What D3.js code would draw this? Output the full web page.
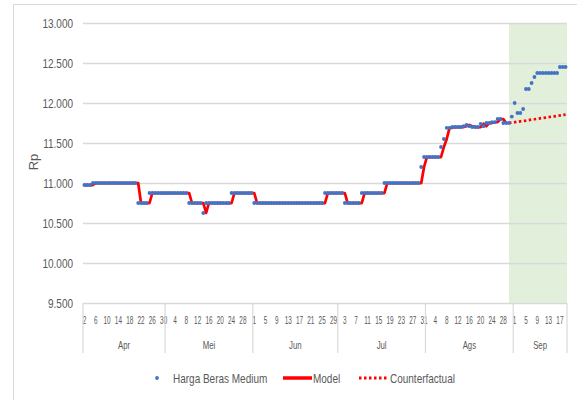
<!DOCTYPE html>
<html><head><meta charset="utf-8">
<script src="https://cdn.jsdelivr.net/npm/d3@7"></script>
<style>
body{margin:0;background:#fff}
text{font-family:"Liberation Sans",Arial,sans-serif;fill:#595959}
</style>
</head><body>
<svg id="chart" width="577" height="400"></svg>
<script>
// ---- categories ----
const months = ["Apr","Mei","Jun","Jul","Ags","Sep"];
const monthFirstDay = [2, 1, 1, 1, 1, 1];
const monthLastDay  = [30, 31, 30, 31, 31, 19];

// ---- Harga Beras Medium (daily, Rp) ----
const priceApr = [10975,10975,10975,11000,11000,11000,11000,11000,11000,11000,11000,11000,11000,11000,11000,11000,11000,11000,11000,10750,10750,10750,10750,10875,10875,10875,10875,10875,10875];
const priceMei = [10875,10875,10875,10875,10875,10875,10875,10875,10750,10750,10750,10750,10750,10625,10750,10750,10750,10750,10750,10750,10750,10750,10750,10875,10875,10875,10875,10875,10875,10875,10875];
const priceJun = [10750,10750,10750,10750,10750,10750,10750,10750,10750,10750,10750,10750,10750,10750,10750,10750,10750,10750,10750,10750,10750,10750,10750,10750,10750,10875,10875,10875,10875,10875];
const priceJul = [10875,10875,10750,10750,10750,10750,10750,10750,10875,10875,10875,10875,10875,10875,10875,10875,11000,11000,11000,11000,11000,11000,11000,11000,11000,11000,11000,11000,11000,11200,11325];
const priceAgs = [11325,11325,11325,11325,11325,11450,11550,11690,11690,11700,11700,11700,11700,11710,11725,11710,11700,11700,11700,11740,11710,11750,11750,11760,11760,11800,11800,11750,11750,11750,11830];
const priceSep = [12000,11875,11875,11925,12175,12175,12250,12325,12375,12375,12375,12375,12375,12375,12375,12375,12450,12450,12450];

// ---- Model (Apr 2 .. Ags 29) ----
const modelApr = [10975,10975,10975,10975,11000,11000,11000,11000,11000,11000,11000,11000,11000,11000,11000,11000,11000,11000,11000,11000,10750,10750,10750,10750,10875,10875,10875,10875,10875];
const modelMei = [10875,10875,10875,10875,10875,10875,10875,10875,10875,10750,10750,10750,10750,10750,10625,10750,10750,10750,10750,10750,10750,10750,10750,10750,10875,10875,10875,10875,10875,10875,10875];
const modelJun = [10875,10750,10750,10750,10750,10750,10750,10750,10750,10750,10750,10750,10750,10750,10750,10750,10750,10750,10750,10750,10750,10750,10750,10750,10750,10750,10875,10875,10875,10875];
const modelJul = [10875,10875,10875,10750,10750,10750,10750,10750,10750,10875,10875,10875,10875,10875,10875,10875,10875,11000,11000,11000,11000,11000,11000,11000,11000,11000,11000,11000,11000,11000,11200];
const modelAgs = [11325,11325,11325,11325,11325,11325,11450,11550,11690,11690,11700,11700,11700,11700,11710,11725,11710,11700,11700,11700,11740,11710,11750,11750,11760,11760,11800,11800,11750];

// ---- Counterfactual (Ags 30 .. Sep 19) ----
const counterfactual = [11750,11755,11760,11766,11771,11776,11781,11787,11792,11797,11802,11808,11813,11818,11823,11829,11834,11839,11844,11850,11855];

// ---- axis / annotation ----
const yTicks = [9500,10000,10500,11000,11500,12000,12500,13000];
const yDomain = [9500,13000];
const shadeStart = "Ags-30";
const yTitle = "Rp";
const legendLabels = ["Harga Beras Medium","Model","Counterfactual"];

// ---- build categories ----
const days = [];
months.forEach((m, k) => {
  for (let d = monthFirstDay[k]; d <= monthLastDay[k]; d++) days.push({key: m + "-" + d, month: m, day: d});
});
const keys = days.map(d => d.key);
const price = [].concat(priceApr, priceMei, priceJun, priceJul, priceAgs, priceSep);
const model = [].concat(modelApr, modelMei, modelJun, modelJul, modelAgs);
const cfStart = keys.indexOf(shadeStart);

const priceData = price.map((v, i) => ({key: keys[i], v}));
const modelData = model.map((v, i) => ({key: keys[i], v}));
const cfData = counterfactual.map((v, i) => ({key: keys[cfStart + i], v}));

// ---- layout ----
const L = 83, R = 567, T = 23, B = 303;
const svg = d3.select("#chart");
const fmt = d3.formatLocale({decimal: ",", thousands: ".", grouping: [3], currency: ["Rp", ""]}).format(",");

const x = d3.scaleBand().domain(keys).range([L, R]).padding(0);
const y = d3.scaleLinear().domain(yDomain).range([B, T]);
const cx = k => x(k) + x.bandwidth() / 2;

// outer chart frame
svg.append("rect").attr("x", 13.5).attr("y", 4.5).attr("width", 620).attr("height", 420)
  .attr("fill", "none").attr("stroke", "#d9d9d9").attr("stroke-width", 1);

// shaded forecast region
svg.append("rect")
  .attr("x", cx(shadeStart)).attr("y", y(yDomain[1]))
  .attr("width", R - cx(shadeStart)).attr("height", y(yDomain[0]) - y(yDomain[1]))
  .attr("fill", "#e2efda");

// y axis with gridlines
const yAxis = svg.append("g").attr("transform", `translate(${L},0)`)
  .call(d3.axisLeft(y).tickValues(yTicks).tickFormat(fmt).tickSize(-(R - L)).tickPadding(10));
yAxis.select(".domain").remove();
yAxis.selectAll("line").attr("stroke", "#d9d9d9").attr("stroke-width", 1.3);
yAxis.selectAll("text").attr("font-size", 12.5).style("fill", "#595959")
  .attr("x", 0).attr("transform", "translate(-10,0) scale(0.8,1)");

// x axis (day ticks)
const xAxis = svg.append("g").attr("transform", `translate(0,${B})`)
  .call(d3.axisBottom(x).tickValues(keys.filter((k, i) => i % 4 === 0))
    .tickFormat(k => k.split("-")[1]).tickSize(0).tickPadding(13.5));
xAxis.select(".domain").remove();
xAxis.selectAll("text").attr("font-size", 10).style("fill", "#595959")
  .attr("transform", "scale(0.64,1)");

// month separators and labels
const monthStarts = months.map(m => keys.find(k => k.startsWith(m + "-")));
const sepXs = monthStarts.map(k => x(k)).concat([R]);
svg.append("g").selectAll("line").data(sepXs).join("line")
  .attr("x1", d => d).attr("x2", d => d).attr("y1", B).attr("y2", B + 50)
  .attr("stroke", "#d9d9d9").attr("stroke-width", 1.2);
svg.append("g").selectAll("text").data(months).join("text")
  .attr("transform", (m, k) => `translate(${(sepXs[k] + sepXs[k + 1]) / 2},${B + 46}) scale(0.78,1)`)
  .attr("text-anchor", "middle").attr("font-size", 10).text(m => m);

// y title
svg.append("text").attr("transform", "translate(38,162) rotate(-90)")
  .attr("text-anchor", "middle").attr("font-size", 13).text(yTitle);

// model line
const line = d3.line().x(d => cx(d.key)).y(d => y(d.v));
svg.append("path").datum(modelData).attr("d", line)
  .attr("fill", "none").attr("stroke", "#ff0000").attr("stroke-width", 2.75).attr("stroke-linejoin", "round");

// counterfactual
svg.append("path").datum(cfData).attr("d", line)
  .attr("fill", "none").attr("stroke", "#ff0000").attr("stroke-width", 2.75).attr("stroke-dasharray", "2.5,2.5");

// price dots
svg.append("g").selectAll("circle").data(priceData).join("circle")
  .attr("cx", d => cx(d.key)).attr("cy", d => y(d.v)).attr("r", 1.9).attr("fill", "#4472c4");

// legend
const ly = 378;
const lg = svg.append("g");
const ltext = (xp, s) => lg.append("text").attr("transform", `translate(${xp},${ly + 4.5}) scale(0.8,1)`)
  .attr("font-size", 12.5).text(s);
lg.append("circle").attr("cx", 157).attr("cy", ly).attr("r", 1.9).attr("fill", "#4472c4");
ltext(173, legendLabels[0]);
lg.append("line").attr("x1", 283).attr("x2", 312).attr("y1", ly).attr("y2", ly).attr("stroke", "#ff0000").attr("stroke-width", 3.5);
ltext(313, legendLabels[1]);
lg.append("line").attr("x1", 359).attr("x2", 387).attr("y1", ly).attr("y2", ly).attr("stroke", "#ff0000").attr("stroke-width", 3).attr("stroke-dasharray", "2.5,2.5");
ltext(390, legendLabels[2]);
</script>
</body></html>
